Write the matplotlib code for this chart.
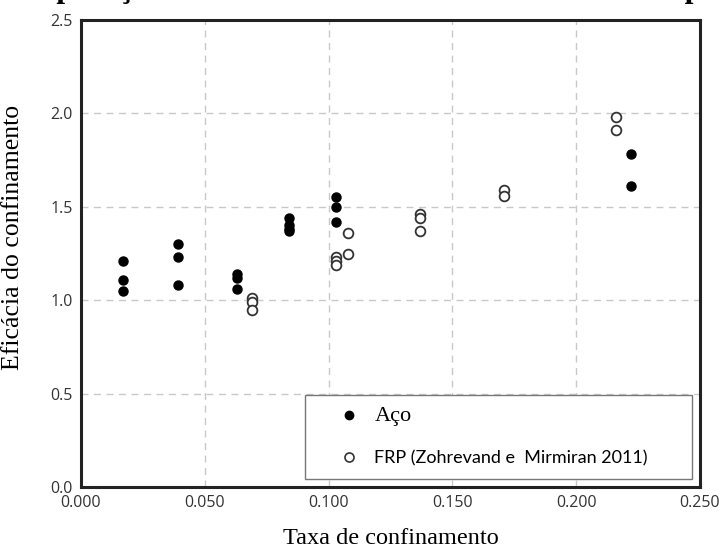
import matplotlib.pyplot as plt
from matplotlib.lines import Line2D

# Aço (filled markers)
aco_x = [0.017, 0.017, 0.017,
         0.039, 0.039, 0.039,
         0.063, 0.063, 0.063,
         0.084, 0.084, 0.084, 0.084,
         0.103, 0.103, 0.103,
         0.222, 0.222]
aco_y = [1.21, 1.11, 1.05,
         1.30, 1.23, 1.08,
         1.14, 1.12, 1.06,
         1.44, 1.40, 1.38, 1.37,
         1.55, 1.50, 1.42,
         1.78, 1.61]

# FRP (Zohrevand e Mirmiran 2011) - open markers
frp_x = [0.069, 0.069, 0.069,
         0.103, 0.103, 0.103,
         0.108, 0.108,
         0.137, 0.137, 0.137,
         0.171, 0.171,
         0.216, 0.216]
frp_y = [1.01, 0.99, 0.95,
         1.23, 1.21, 1.19,
         1.36, 1.25,
         1.46, 1.44, 1.37,
         1.59, 1.56,
         1.98, 1.91]

xticks = [0.0, 0.05, 0.10, 0.15, 0.20, 0.25]
xticklabels = ['0.000', '0.050', '0.100', '0.150', '0.200', '0.250']
yticks = [0.0, 0.5, 1.0, 1.5, 2.0, 2.5]
yticklabels = ['0.0', '0.5', '1.0', '1.5', '2.0', '2.5']

fig = plt.figure(figsize=(7.24, 5.52), dpi=100)
ax = fig.add_axes([81/724, 1-487/552, 619/724, 467/552])

ax.plot(aco_x, aco_y, 'o', color='black', ms=6.5, ls='none', zorder=3)
ax.plot(frp_x, frp_y, 'o', mfc='white', mec='#333333', mew=1.3, ms=7, ls='none', zorder=3)

ax.set_xlim(0, 0.25)
ax.set_ylim(0, 2.5)
ax.set_xticks(xticks)
ax.set_xticklabels(xticklabels, fontfamily='Open Sans', fontsize=11.5, color='#333333')
ax.set_yticks(yticks)
ax.set_yticklabels(yticklabels, fontfamily='Open Sans', fontsize=11.5, color='#333333')
ax.tick_params(length=0, pad=6)
ax.grid(True, color='#c8c8c8', linestyle=(0, (5, 4)), linewidth=1)
ax.set_axisbelow(True)
for s in ax.spines.values():
    s.set_linewidth(2.2)
    s.set_color('#222222')

ax.set_xlabel('Taxa de confinamento', fontfamily='Liberation Serif', fontsize=17.5, labelpad=12)
ax.set_ylabel('Eficácia do confinamento', fontfamily='Liberation Serif', fontsize=18.5)
ax.yaxis.set_label_coords(-0.092, 0.535)

handles = [Line2D([], [], marker='o', color='black', ls='none', ms=6),
           Line2D([], [], marker='o', mfc='white', mec='#333333', mew=1.2, ls='none', ms=6.5)]
leg = ax.legend(handles, ['Aço', 'FRP (Zohrevand e  Mirmiran 2011)'],
                loc='center', bbox_to_anchor=(0.362, 0.015, 0.625, 0.184), mode='expand',
                frameon=True, fancybox=False, edgecolor='#777777', framealpha=1,
                prop={'family': 'Lato', 'size': 13}, borderpad=0.7, labelspacing=1.35,
                handlelength=3.5, handletextpad=-0.36, borderaxespad=0)
leg.get_frame().set_linewidth(1)
leg.get_texts()[0].set_fontfamily('Liberation Serif')
leg.get_texts()[0].set_fontsize(16)

# title cut off at top of the image
fig.text(0.498, 1 + 3/552, 'Comparação da eficácia do confinamento entre os tipos',
         ha='center', va='baseline', fontfamily='Liberation Serif', fontweight='bold', fontsize=22.5)

fig.savefig('out.png', dpi=100)
